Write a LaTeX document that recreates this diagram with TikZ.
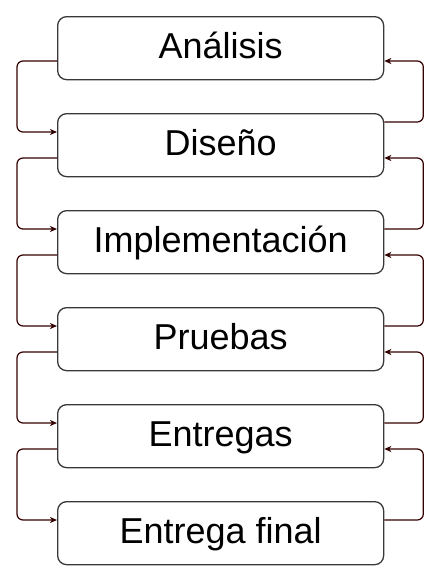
\documentclass[tikz,border=0pt]{standalone}
\usepackage{fontspec}
\setmainfont{Liberation Sans}
\usetikzlibrary{arrows.meta}
\definecolor{boxgray}{HTML}{383838}
\definecolor{linkred}{HTML}{330000}
\begin{document}
\begin{tikzpicture}[x=1pt,y=1pt,
  stagebox/.style={draw=boxgray, line width=1.3pt, rounded corners=9pt,
    minimum width=326pt, minimum height=63pt, inner sep=0pt,
    text height=28pt, text depth=6.5pt,
    font=\fontsize{36}{42}\selectfont, anchor=north west},
  link/.style={draw=linkred, line width=1.2pt, rounded corners=6pt,
    -{Stealth[length=7pt,width=6pt,inset=2pt]}}]
\useasboundingbox (0,0) rectangle (446,-584);
\node[stagebox] (a) at (57,-16) {Análisis};
\node[stagebox] (b) at (57,-113) {Diseño};
\node[stagebox] (c) at (57,-210) {Implementación};
\node[stagebox] (d) at (57,-307) {Pruebas};
\node[stagebox] (e) at (57,-404) {Entregas};
\node[stagebox] (f) at (57,-501) {Entrega final};
% left links (downwards)
\draw[link] ([yshift=-45pt]a.north west) -- ++(-40,0) |- ([yshift=-19pt]b.north west);
\draw[link] ([yshift=-45pt]b.north west) -- ++(-40,0) |- ([yshift=-19pt]c.north west);
\draw[link] ([yshift=-45pt]c.north west) -- ++(-40,0) |- ([yshift=-19pt]d.north west);
\draw[link] ([yshift=-45pt]d.north west) -- ++(-40,0) |- ([yshift=-19pt]e.north west);
\draw[link] ([yshift=-45pt]e.north west) -- ++(-40,0) |- ([yshift=-19pt]f.north west);
% right links (upwards)
\draw[link] ([yshift=-9pt]b.north east) -- ++(39,0) |- ([yshift=-45pt]a.north east);
\draw[link] ([yshift=-19pt]c.north east) -- ++(39,0) |- ([yshift=-45pt]b.north east);
\draw[link] ([yshift=-19pt]d.north east) -- ++(39,0) |- ([yshift=-45pt]c.north east);
\draw[link] ([yshift=-19pt]e.north east) -- ++(39,0) |- ([yshift=-45pt]d.north east);
\draw[link] ([yshift=-19pt]f.north east) -- ++(39,0) |- ([yshift=-45pt]e.north east);
\end{tikzpicture}
\end{document}
